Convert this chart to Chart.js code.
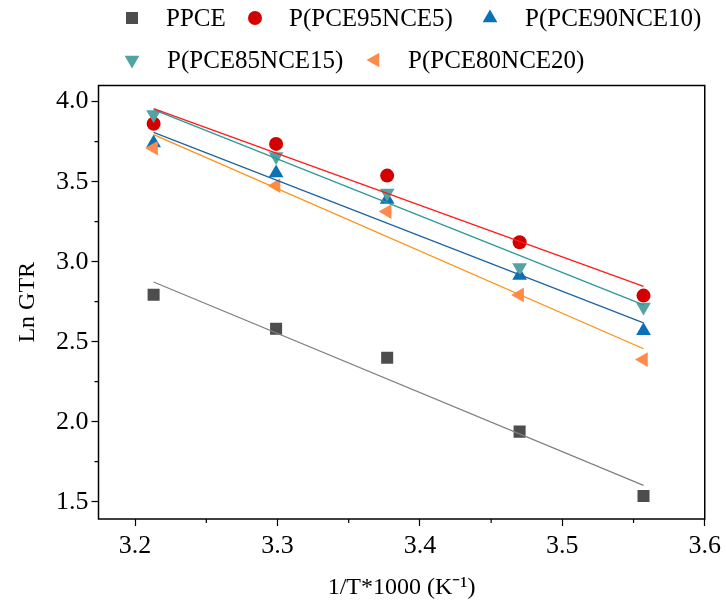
<!DOCTYPE html>
<html>
<head>
<meta charset="utf-8">
<script src="https://cdn.jsdelivr.net/npm/chart.js@4/dist/chart.umd.min.js"></script>
<style>
html,body{margin:0;padding:0;background:#fff;}
#wrap{width:726px;height:604px;position:relative;}
</style>
</head>
<body>
<div id="wrap"><canvas id="c" width="726" height="604"></canvas></div>
<script>
// ---- data ----
const xValues = [3.213, 3.299, 3.377, 3.470, 3.557];
const seriesNames = ["PPCE", "P(PCE95NCE5)", "P(PCE90NCE10)", "P(PCE85NCE15)", "P(PCE80NCE20)"];
const ppce   = [2.794, 2.581, 2.400, 1.938, 1.536];
const pce95  = [3.862, 3.736, 3.538, 3.121, 2.788];
const pce90  = [3.742, 3.554, 3.388, 2.913, 2.569];
const pce85  = [3.920, 3.658, 3.429, 2.964, 2.717];
const pce80  = [3.710, 3.475, 3.313, 2.792, 2.388];
// fitted lines: [value at first x, value at last x]
const fitX    = [3.213, 3.557];
const fitPPCE = [2.873, 1.602];
const fit95   = [3.956, 2.846];
const fit90   = [3.808, 2.617];
const fit85   = [3.950, 2.730];
const fit80   = [3.794, 2.456];
const xTicks = [3.2, 3.3, 3.4, 3.5, 3.6];
const yTicks = [1.5, 2.0, 2.5, 3.0, 3.5, 4.0];
const xMinor = [3.25, 3.35, 3.45, 3.55];
const yMinor = [1.75, 2.25, 2.75, 3.25, 3.75];

const FONT = "'Liberation Serif','Times New Roman',serif";

const pts = (ys) => ys.map((y, i) => ({x: xValues[i], y}));
const fit = (ys) => ys.map((y, i) => ({x: fitX[i], y}));

const markerStyles = [
  {color: '#4d4d4d', style: 'rect', radius: 8.5, rot: 0},
  {color: '#d40000', style: 'circle', radius: 7, rot: 0},
  {color: '#0a72b4', style: 'triangle', radius: 8.5, rot: 0},
  {color: '#52a4a4', style: 'triangle', radius: 8.5, rot: 180},
  {color: '#ff8a4c', style: 'triangle', radius: 8.5, rot: -90}
];
const lineColors = ['#808080', '#ff1a1a', '#1f64a0', '#2a9a9a', '#ff9014'];
const seriesData = [ppce, pce95, pce90, pce85, pce80];
const fitData = [fitPPCE, fit95, fit90, fit85, fit80];

const datasets = [];
seriesData.forEach((ys, i) => {
  const m = markerStyles[i];
  datasets.push({
    label: seriesNames[i],
    data: pts(ys),
    showLine: false,
    pointStyle: m.style,
    pointRadius: m.radius,
    pointHoverRadius: m.radius,
    pointRotation: m.rot,
    backgroundColor: m.color,
    borderColor: m.color,
    pointBorderWidth: 0,
    order: 5 - i
  });
});
fitData.forEach((ys, i) => {
  datasets.push({
    label: seriesNames[i] + ' fit',
    data: fit(ys),
    showLine: true,
    borderColor: lineColors[i],
    borderWidth: 1.3,
    pointRadius: 0,
    fill: false,
    order: 0
  });
});

const legendLayout = {
  rows: [
    [{i: 0, mx: 132, tx: 166}, {i: 1, mx: 255, tx: 289}, {i: 2, mx: 490, tx: 525}],
    [{i: 3, mx: 132, tx: 167}, {i: 4, mx: 375, tx: 408}]
  ],
  rowY: [18, 60]
};

const customLegend = {
  id: 'customLegend',
  afterDraw(chart) {
    const ctx = chart.ctx;
    ctx.save();
    ctx.font = '25px ' + FONT;
    ctx.textBaseline = 'middle';
    ctx.textAlign = 'left';
    ctx.fillStyle = '#000';
    legendLayout.rows.forEach((row, r) => {
      const y = legendLayout.rowY[r];
      row.forEach(item => {
        const m = markerStyles[item.i];
        ctx.fillStyle = m.color;
        ctx.strokeStyle = m.color;
        ctx.lineWidth = 0;
        Chart.helpers.drawPoint(ctx, {pointStyle: m.style, radius: m.radius, rotation: m.rot, borderWidth: 0}, item.mx, y);
        ctx.fillStyle = '#000';
        ctx.fillText(seriesNames[item.i], item.tx, y + 1);
      });
    });
    ctx.restore();
  }
};

const frameAndMinor = {
  id: 'frameAndMinor',
  afterDraw(chart) {
    const ctx = chart.ctx;
    const a = chart.chartArea;
    const xs = chart.scales.x, ys = chart.scales.y;
    ctx.save();
    ctx.strokeStyle = '#000';
    ctx.lineWidth = 1.5;
    ctx.strokeRect(a.left, a.top, a.right - a.left, a.bottom - a.top);
    ctx.lineWidth = 1.2;
    ctx.beginPath();
    xMinor.forEach(v => {
      const px = xs.getPixelForValue(v);
      ctx.moveTo(px, a.bottom); ctx.lineTo(px, a.bottom + 4);
    });
    yMinor.forEach(v => {
      const py = ys.getPixelForValue(v);
      ctx.moveTo(a.left, py); ctx.lineTo(a.left - 4, py);
    });
    ctx.stroke();
    ctx.restore();
  }
};

new Chart(document.getElementById('c'), {
  type: 'scatter',
  data: {datasets},
  options: {
    responsive: false,
    animation: false,
    layout: {padding: {top: 85.5, right: 19, left: 0, bottom: 0}},
    plugins: {legend: {display: false}, tooltip: {enabled: false}},
    scales: {
      x: {
        type: 'linear',
        min: 3.1743, max: 3.6,
        afterFit(s) { s.height = 85; },
        afterBuildTicks(s) { s.ticks = xTicks.map(v => ({value: v})); },
        ticks: {
          callback: v => v.toFixed(1),
          font: {family: FONT, size: 26},
          color: '#000',
          padding: 5,
          maxRotation: 0
        },
        grid: {drawOnChartArea: false, drawTicks: true, tickLength: 7, tickColor: '#000', tickWidth: 1.2},
        border: {display: false},
        title: {
          display: true,
          text: '1/T*1000 (K\u207B\u00B9)',
          font: {family: FONT, size: 24},
          color: '#000',
          padding: {top: 0, bottom: 2}
        }
      },
      y: {
        type: 'linear',
        min: 1.392, max: 4.101,
        afterFit(s) { s.width = 98.5; },
        afterBuildTicks(s) { s.ticks = yTicks.map(v => ({value: v})); },
        ticks: {
          callback: v => v.toFixed(1),
          font: {family: FONT, size: 26},
          color: '#000',
          padding: 3
        },
        grid: {drawOnChartArea: false, drawTicks: true, tickLength: 7, tickColor: '#000', tickWidth: 1.2},
        border: {display: false},
        title: {
          display: true,
          text: 'Ln GTR',
          font: {family: FONT, size: 24},
          color: '#000',
          padding: {top: 13, bottom: 0}
        }
      }
    }
  },
  plugins: [customLegend, frameAndMinor]
});
</script>
</body>
</html>
